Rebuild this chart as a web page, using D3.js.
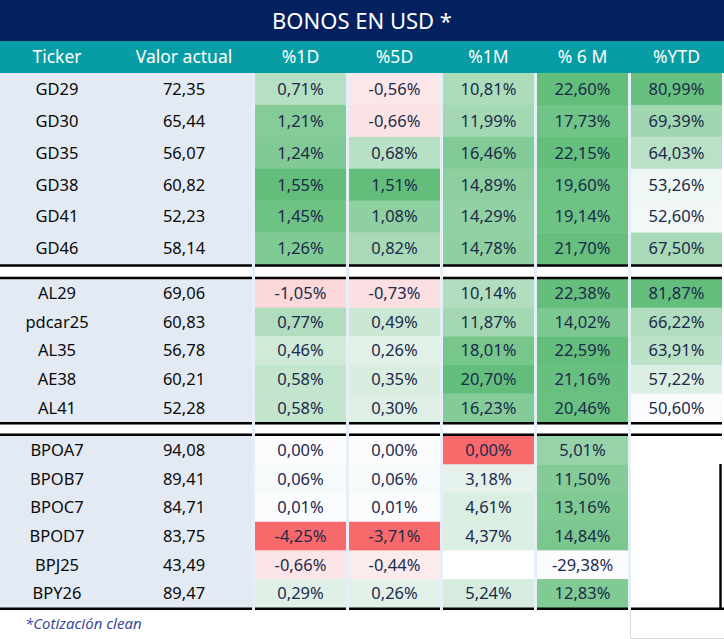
<!DOCTYPE html>
<html><head><meta charset="utf-8">
<script src="https://cdn.jsdelivr.net/npm/d3@7"></script>
<style>
html,body{margin:0;padding:0;background:#fff;}
svg{display:block;font-family:"Noto Sans",sans-serif;}
</style></head>
<body>
<svg id="chart" width="724" height="639"></svg>
<script>
const title = "BONOS EN USD *";
const footnote = "*Cotización clean";
const headers = ["Ticker", "Valor actual", "%1D", "%5D", "%1M", "% 6 M", "%YTD"];
const groupSizes = [6, 5, 6];
const tickers = ["GD29","GD30","GD35","GD38","GD41","GD46","AL29","pdcar25","AL35","AE38","AL41","BPOA7","BPOB7","BPOC7","BPOD7","BPJ25","BPY26"];
const valorActual = [72.35,65.44,56.07,60.82,52.23,58.14,69.06,60.83,56.78,60.21,52.28,94.08,89.41,84.71,83.75,43.49,89.47];
const pct1D = [0.71,1.21,1.24,1.55,1.45,1.26,-1.05,0.77,0.46,0.58,0.58,0.00,0.06,0.01,-4.25,-0.66,0.29];
const pct5D = [-0.56,-0.66,0.68,1.51,1.08,0.82,-0.73,0.49,0.26,0.35,0.30,0.00,0.06,0.01,-3.71,-0.44,0.26];
const pct1M = [10.81,11.99,16.46,14.89,14.29,14.78,10.14,11.87,18.01,20.70,16.23,0.00,3.18,4.61,4.37,null,5.24];
const pct6M = [22.60,17.73,22.15,19.60,19.14,21.70,22.38,14.02,22.59,21.16,20.46,5.01,11.50,13.16,14.84,-29.38,12.83];
const pctYTD = [80.99,69.39,64.03,53.26,52.60,67.50,81.87,66.22,63.91,57.22,50.60,null,null,null,null,null,null];
// colour-scale kind per percentage column: "div" = red/white/green around 0, "seq" = white→green
const scaleKinds = ["div","div","div","seq","seq"];

const pctCols = [pct1D, pct5D, pct1M, pct6M, pctYTD];
const svg = d3.select("#chart");
const W = 724;
const RED = "#F8696B", MID = "#FCFCFF", GREEN = "#63BE7B";

function makeColor(values, kind) {
  const v = values.filter(d => d !== null);
  const mn = d3.min(v), mx = d3.max(v);
  if (kind === "seq") {
    const s = d3.scaleLinear().domain([mn, mx]).range([MID, GREEN]).interpolate(d3.interpolateRgb);
    return d => d === null ? "#FFFFFF" : s(d);
  }
  const neg = d3.scaleLinear().domain([mn, 0]).range([RED, MID]).interpolate(d3.interpolateRgb);
  const pos = d3.scaleLinear().domain([0, mx]).range([MID, GREEN]).interpolate(d3.interpolateRgb);
  return d => {
    if (d === null) return "#FFFFFF";
    if (d === mn) return RED;
    if (d < 0) return neg(d);
    return pos(d);
  };
}
const colorFns = pctCols.map((c, i) => makeColor(c, scaleKinds[i]));

const loc = d3.formatLocale({decimal: ",", thousands: ".", grouping: [3], currency: ["", ""], minus: "-"});
const f2 = loc.format(".2f");
const fmtNum = d => f2(d);
const fmtPct = d => d === null ? "" : f2(d) + "%";

// column scale for percentage columns
const xPct = d3.scaleBand().domain(d3.range(5)).range([255, 722]).paddingInner(3/94).paddingOuter(0);
const leftEnd = 252;
const tickerX = 57, valorX = 184;

// group vertical extents
const groupExtents = [[73, 264.5], [279, 422.3], [435.7, 607.8]];
const starts = [0, 6, 11];

// background of table area (column gaps light blue)
svg.append("rect").attr("x", 0).attr("y", 73).attr("width", W).attr("height", 537)
  .attr("fill", "#E6EEF8");
svg.append("rect").attr("x", 722).attr("y", 73).attr("width", 2).attr("height", 537).attr("fill", "#fff");
// separator white bands
[[266.5, 10.5], [424.3, 9.4]].forEach(([y, h]) => {
  svg.append("rect").attr("x", 0).attr("y", y).attr("width", leftEnd).attr("height", h).attr("fill", "#fff");
  d3.range(5).forEach(i => svg.append("rect").attr("x", xPct(i)).attr("y", y).attr("width", xPct.bandwidth()).attr("height", h).attr("fill", "#fff"));
});

// title band
svg.append("rect").attr("x", 0).attr("y", 0).attr("width", W).attr("height", 41).attr("fill", "#03205F");
svg.append("text").attr("x", 362).attr("y", 28.5).attr("text-anchor", "middle")
  .attr("fill", "#fff").attr("font-size", 22).text(title);
// header band
svg.append("rect").attr("x", 0).attr("y", 41).attr("width", W).attr("height", 32).attr("fill", "#089DA4");
const headerX = [tickerX, valorX].concat(d3.range(5).map(i => xPct(i) + xPct.bandwidth() / 2));
headers.forEach((h, i) => {
  svg.append("text").attr("x", headerX[i]).attr("y", 63).attr("text-anchor", "middle")
    .attr("fill", "#fff").attr("font-size", 17.5).text(h);
});

groupSizes.forEach((n, g) => {
  const idx = d3.range(starts[g], starts[g] + n);
  const y = d3.scaleBand().domain(idx).range(groupExtents[g]);
  // left block
  svg.append("rect").attr("x", 0).attr("y", groupExtents[g][0]).attr("width", leftEnd)
    .attr("height", groupExtents[g][1] - groupExtents[g][0]).attr("fill", "#E3EAF4");
  idx.forEach(r => {
    const cy = y(r) + y.bandwidth() / 2 + 5.8;
    svg.append("text").attr("x", tickerX).attr("y", cy).attr("text-anchor", "middle")
      .attr("fill", "#0a0a0a").attr("font-size", 16.5).text(tickers[r]);
    svg.append("text").attr("x", valorX).attr("y", cy).attr("text-anchor", "middle")
      .attr("fill", "#0a0a0a").attr("font-size", 16.5).text(fmtNum(valorActual[r]));
    pctCols.forEach((col, c) => {
      svg.append("rect").attr("x", xPct(c)).attr("y", y(r)).attr("width", xPct.bandwidth())
        .attr("height", y.bandwidth() + 0.3).attr("fill", colorFns[c](col[r]));
      if (col[r] !== null) {
        svg.append("text").attr("x", xPct(c) + xPct.bandwidth() / 2).attr("y", cy)
          .attr("text-anchor", "middle").attr("fill", "#1C2A4B").attr("font-size", 16.5)
          .text(fmtPct(col[r]));
      }
    });
  });
});

// YTD empty area for last group: white
svg.append("rect").attr("x", xPct(4)).attr("y", groupExtents[2][0]).attr("width", W - xPct(4))
  .attr("height", groupExtents[2][1] - groupExtents[2][0]).attr("fill", "#fff");

// black rule lines (broken at column gaps)
const ruleYs = [265.5, 278, 423.2, 434.7, 608.8];
ruleYs.forEach((ry, k) => {
  const segs = [[0, leftEnd]].concat(d3.range(5).map(i => [xPct(i), xPct(i) + xPct.bandwidth()]));
  if (k === 4) segs[5] = [xPct(4), W];
  segs.forEach(([a, b]) => svg.append("line").attr("x1", a).attr("x2", b).attr("y1", ry).attr("y2", ry)
    .attr("stroke", "#000").attr("stroke-width", 2.4));
});
svg.append("line").attr("x1", 720.5).attr("x2", 720.5).attr("y1", 464).attr("y2", 610)
  .attr("stroke", "#000").attr("stroke-width", 2.4);

// faint grey frame bottom right
svg.append("path").attr("d", `M${xPct(4) - 0.5},610 V638.5 H724`).attr("fill", "none")
  .attr("stroke", "#DADADA").attr("stroke-width", 1);

// footnote
svg.append("text").attr("x", 25).attr("y", 629).attr("font-style", "italic")
  .attr("fill", "#3A4A9A").attr("font-size", 15).text(footnote);
</script>
</body></html>
